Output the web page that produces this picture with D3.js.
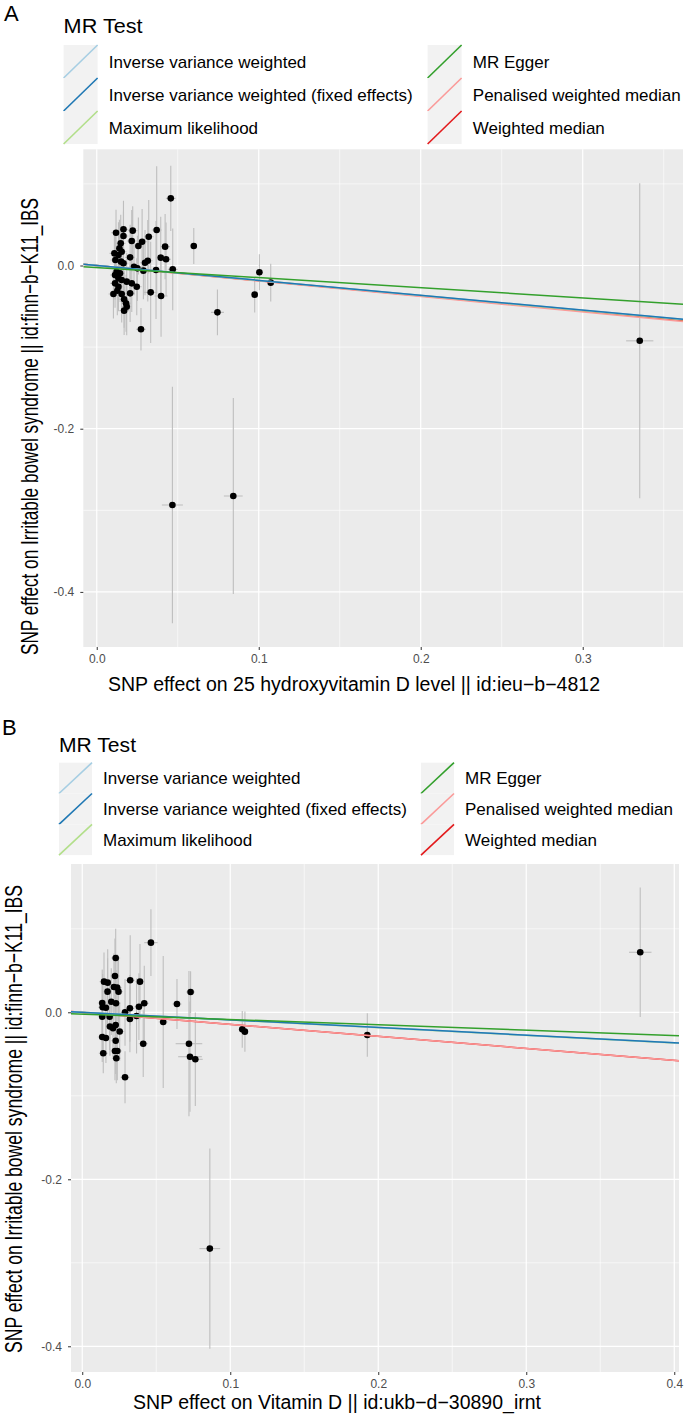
<!DOCTYPE html>
<html><head><meta charset="utf-8">
<script src="https://cdn.jsdelivr.net/npm/d3@7"></script>
<style>body{margin:0;background:#fff;} text{font-family:"Liberation Sans",Arial,sans-serif;}</style>
</head><body><svg id="c" width="685" height="1418"></svg>
<script>
// ---------- data ----------
const methods = ["Inverse variance weighted","Inverse variance weighted (fixed effects)","Maximum likelihood","MR Egger","Penalised weighted median","Weighted median"];
const methodColors = ["#a6cee3","#1f78b4","#b2df8a","#33a02c","#fb9a99","#e31a1c"];
const lineDrawOrder = [5,4,2,0,1,3];

// Panel A: 25 hydroxyvitamin D level (ieu-b-4812) -> IBS
const aX = [0.0457,0.0165,0.0222,0.0119,0.0370,0.0165,0.0321,0.0216,0.0148,0.0280,
            0.0140,0.0257,0.0422,0.0599,0.0154,0.0109,0.0134,0.0206,0.0395,0.0115,
            0.0150,0.0315,0.0428,0.0298,0.0165,0.0230,0.0251,0.0469,0.0366,0.0123,
            0.0288,0.0144,0.0113,0.0134,0.0185,0.0154,0.0113,0.0216,0.0134,0.0247,
            0.0333,0.0397,0.0103,0.0154,0.0206,0.0127,0.0169,0.0181,0.0185,0.0169,
            0.0273,0.0745,0.0975,0.1004,0.1074,0.0467,0.0843,0.3352];
const aY = [0.0823,0.0443,0.0427,0.0402,0.0435,0.0361,0.0353,0.0300,0.0272,0.0292,
            0.0211,0.0239,0.0231,0.0239,0.0169,0.0149,0.0129,0.0100,0.0096,0.0067,
            0.0047,0.0059,0.0076,0.0034,0.0027,-0.0015,-0.0035,-0.0047,-0.0055,-0.0076,
            -0.0063,-0.0096,-0.0116,-0.0157,-0.0198,-0.0178,-0.0219,-0.0219,-0.0260,-0.0260,
            -0.0329,-0.0374,-0.0349,-0.0349,-0.0341,-0.0309,-0.0414,-0.0463,-0.0504,-0.0553,
            -0.0782,-0.0574,-0.0357,-0.0083,-0.0210,-0.2935,-0.2825,-0.0923];
const aSeY = [0.040,0.035,0.030,0.028,0.078,0.030,0.045,0.038,0.035,0.040,
              0.035,0.035,0.040,0.022,0.030,0.025,0.040,0.040,0.050,0.030,
              0.030,0.050,0.045,0.040,0.035,0.035,0.040,0.050,0.060,0.030,
              0.035,0.035,0.030,0.035,0.035,0.030,0.030,0.035,0.030,0.035,
              0.062,0.050,0.030,0.035,0.035,0.030,0.035,0.035,0.035,0.030,
              0.026,0.028,0.022,0.022,0.023,0.145,0.120,0.193];
const aSeX = [0.003,0.003,0.003,0.003,0.003,0.003,0.003,0.003,0.003,0.003,
              0.003,0.003,0.003,0.002,0.003,0.003,0.003,0.003,0.003,0.003,
              0.003,0.003,0.003,0.003,0.003,0.003,0.003,0.003,0.003,0.003,
              0.003,0.003,0.003,0.003,0.003,0.003,0.003,0.003,0.003,0.003,
              0.004,0.004,0.003,0.003,0.003,0.003,0.003,0.003,0.003,0.003,
              0.003,0.004,0.002,0.002,0.002,0.0065,0.0058,0.0084];
const aIntercept = [0, 0, 0, -0.0025, 0, 0];
const aSlope = [-0.182, -0.182, -0.184, -0.124, -0.1895, -0.186];
const aXTicks = [0, 0.1, 0.2, 0.3];
const aYTicks = [-0.4, -0.2, 0];
const aXDomain = [-0.0083, 0.3619];
const aYDomain = [-0.4675, 0.1424];

// Panel B: Vitamin D (ukb-d-30890_irnt) -> IBS
const bX = [0.0464,0.0226,0.0221,0.0324,0.0390,0.0147,0.0172,0.0214,0.0236,0.0245,
            0.0171,0.0732,0.0640,0.0419,0.0383,0.0322,0.0289,0.0135,0.0196,0.0228,
            0.0138,0.0160,0.0135,0.0185,0.0322,0.0367,0.0547,0.0187,0.0208,0.0226,
            0.0253,0.0135,0.0160,0.0226,0.0412,0.0721,0.1081,0.1099,0.0142,0.0221,
            0.0237,0.0230,0.0728,0.0764,0.0289,0.0862,0.1926,0.3770];
const bY = [0.0834,0.0650,0.0435,0.0383,0.0367,0.0367,0.0355,0.0303,0.0295,0.0247,
            0.0247,0.0243,0.0099,0.0108,0.0067,0.0048,0.0000,0.0111,0.0127,0.0108,
            0.0060,0.0055,-0.0053,-0.0053,-0.0080,-0.0044,-0.0116,-0.0170,-0.0190,-0.0152,
            -0.0230,-0.0296,-0.0308,-0.0340,-0.0376,-0.0376,-0.0204,-0.0232,-0.0490,-0.0463,
            -0.0463,-0.0550,-0.0532,-0.0563,-0.0778,-0.2830,-0.0272,0.0719];
const bSeY = [0.040,0.035,0.045,0.054,0.045,0.035,0.040,0.040,0.040,0.040,
              0.040,0.025,0.030,0.045,0.040,0.040,0.040,0.040,0.040,0.040,
              0.040,0.035,0.040,0.040,0.040,0.045,0.079,0.035,0.035,0.040,
              0.035,0.030,0.030,0.040,0.040,0.087,0.022,0.024,0.024,0.035,
              0.035,0.030,0.066,0.056,0.031,0.120,0.026,0.0775];
const bSeX = [0.0045,0.003,0.003,0.003,0.003,0.003,0.003,0.003,0.003,0.003,
              0.003,0.003,0.003,0.003,0.003,0.003,0.003,0.003,0.003,0.003,
              0.003,0.003,0.003,0.003,0.003,0.003,0.003,0.003,0.003,0.003,
              0.003,0.003,0.003,0.003,0.003,0.009,0.002,0.002,0.003,0.003,
              0.003,0.003,0.008,0.005,0.003,0.007,0.002,0.0076];
const bIntercept = [0, 0, 0, -0.0022, 0, 0];
const bSlope = [-0.091, -0.091, -0.092, -0.064, -0.144, -0.144];
const bXTicks = [0, 0.1, 0.2, 0.3, 0.4];
const bYTicks = [-0.4, -0.2, 0];
const bXDomain = [-0.0076, 0.4032];
const bYDomain = [-0.4308, 0.1776];

const yTitle = "SNP effect on Irritable bowel syndrome || id:finn\u2212b\u2212K11_IBS";
const aXTitle = "SNP effect on 25 hydroxyvitamin D level || id:ieu\u2212b\u22124812";
const bXTitle = "SNP effect on Vitamin D || id:ukb\u2212d\u221230890_irnt";

// ---------- drawing ----------
const svg = d3.select("#c");
svg.append("rect").attr("width",685).attr("height",1418).attr("fill","#fff");

function minorTicks(major, dom){
  const step = major[1]-major[0];
  const out = [];
  for (let v = major[0]-step/2; v <= dom[1]; v += step) {
    if (v >= dom[0] && v <= dom[1]) out.push(+v.toFixed(4));
  }
  return out;
}
const fmt = v => d3.format(".1f")(v).replace("\u2212","-");

function drawPanel(cfg){
  const g = svg.append("g");
  const x = d3.scaleLinear().domain(cfg.xDomain).range([cfg.left, cfg.right]);
  const y = d3.scaleLinear().domain(cfg.yDomain).range([cfg.bottom, cfg.top]);
  const clipId = "clip" + cfg.id;
  svg.append("clipPath").attr("id", clipId).append("rect")
    .attr("x", cfg.left).attr("y", cfg.top).attr("width", cfg.right-cfg.left).attr("height", cfg.bottom-cfg.top);

  g.append("rect").attr("x",cfg.left).attr("y",cfg.top).attr("width",cfg.right-cfg.left)
    .attr("height",cfg.bottom-cfg.top).attr("fill","#EBEBEB");

  // grid
  const grid = g.append("g").attr("stroke","#fff");
  minorTicks(cfg.xTicks, cfg.xDomain).forEach(v => grid.append("line")
    .attr("x1",x(v)).attr("x2",x(v)).attr("y1",cfg.top).attr("y2",cfg.bottom).attr("stroke-width",0.6));
  minorTicks(cfg.yTicks, cfg.yDomain).forEach(v => grid.append("line")
    .attr("y1",y(v)).attr("y2",y(v)).attr("x1",cfg.left).attr("x2",cfg.right).attr("stroke-width",0.6));
  cfg.xTicks.forEach(v => grid.append("line")
    .attr("x1",x(v)).attr("x2",x(v)).attr("y1",cfg.top).attr("y2",cfg.bottom).attr("stroke-width",1.2));
  cfg.yTicks.forEach(v => grid.append("line")
    .attr("y1",y(v)).attr("y2",y(v)).attr("x1",cfg.left).attr("x2",cfg.right).attr("stroke-width",1.2));

  const pts = cfg.xs.map((v,i) => ({x:v, y:cfg.ys[i], sy:cfg.seY[i], sx:cfg.seX[i]}));
  const inner = g.append("g").attr("clip-path", `url(#${clipId})`);
  inner.append("g").selectAll("line").data(pts).join("line")
    .attr("x1", d=>x(d.x)).attr("x2", d=>x(d.x)).attr("y1", d=>y(d.y-d.sy)).attr("y2", d=>y(d.y+d.sy))
    .attr("stroke","#BEBEBE").attr("stroke-width",1.1);
  inner.append("g").selectAll("line").data(pts).join("line")
    .attr("y1", d=>y(d.y)).attr("y2", d=>y(d.y)).attr("x1", d=>x(d.x-d.sx)).attr("x2", d=>x(d.x+d.sx))
    .attr("stroke","#BEBEBE").attr("stroke-width",1.1);
  inner.append("g").selectAll("circle").data(pts).join("circle")
    .attr("cx", d=>x(d.x)).attr("cy", d=>y(d.y)).attr("r",3.3).attr("fill","#000");
  lineDrawOrder.forEach(i => {
    const a = cfg.intercept[i], b = cfg.slope[i];
    inner.append("line")
      .attr("x1", x(cfg.xDomain[0])).attr("y1", y(a + b*cfg.xDomain[0]))
      .attr("x2", x(cfg.xDomain[1])).attr("y2", y(a + b*cfg.xDomain[1]))
      .attr("stroke", methodColors[i]).attr("stroke-width",1.5);
  });

  // axes
  const xa = g.append("g").attr("transform",`translate(0,${cfg.bottom})`)
    .call(d3.axisBottom(x).tickValues(cfg.xTicks).tickSize(3).tickPadding(3).tickFormat(fmt));
  const ya = g.append("g").attr("transform",`translate(${cfg.left},0)`)
    .call(d3.axisLeft(y).tickValues(cfg.yTicks).tickSize(3).tickPadding(cfg.yPad).tickFormat(fmt));
  [xa, ya].forEach(ax => {
    ax.select(".domain").remove();
    ax.selectAll(".tick line").attr("stroke","#333333").attr("stroke-width",1);
    ax.selectAll(".tick text").attr("fill","#4D4D4D").style("font-size","12px")
      .style("font-family",'"Liberation Sans",Arial,sans-serif');
  });
  xa.selectAll(".tick text").attr("dy",null).attr("y",16);

  // titles
  g.append("text").attr("x",cfg.xTitleX).attr("y",cfg.xTitleY).attr("font-size",19.5)
    .attr("fill","#000").attr("textLength",cfg.xTitleLen).attr("lengthAdjust","spacingAndGlyphs")
    .text(cfg.xTitle);
  g.append("text").attr("transform",`translate(${cfg.yTitleX},${cfg.yTitleY}) rotate(-90)`)
    .attr("text-anchor","middle").attr("font-size",24).attr("fill","#000")
    .attr("textLength",cfg.yTitleLen).attr("lengthAdjust","spacingAndGlyphs").text(yTitle);

  // panel letter
  g.append("text").attr("x",cfg.letterX).attr("y",cfg.letterY).attr("font-size",22).text(cfg.letter);

  // legend
  const L = cfg.legend;
  g.append("text").attr("x",L.titleX).attr("y",L.titleY).attr("font-size",20)
    .attr("textLength",L.titleLen).attr("lengthAdjust","spacingAndGlyphs").text("MR Test");
  methods.forEach((m,i) => {
    const col = Math.floor(i/3), row = i%3;
    const kx = L.colX[col], ky = L.rowY0 + row*L.keyH;
    g.append("rect").attr("x",kx).attr("y",ky).attr("width",L.keyW).attr("height",L.keyH).attr("fill","#F2F2F2");
    g.append("line").attr("x1",kx).attr("y1",ky+L.keyH).attr("x2",kx+L.keyW).attr("y2",ky)
      .attr("stroke",methodColors[i]).attr("stroke-width",1.6);
    g.append("text").attr("x",L.textX[col]).attr("y",ky+L.keyH/2).attr("dy","0.36em")
      .attr("font-size",17).attr("fill","#000").text(m);
  });
}

drawPanel({
  id:"A", letter:"A", letterX:4, letterY:21,
  left:83.3, right:683, top:149.3, bottom:647, yPad:6,
  xDomain:aXDomain, yDomain:aYDomain, xTicks:aXTicks, yTicks:aYTicks,
  xs:aX, ys:aY, seY:aSeY, seX:aSeX, intercept:aIntercept, slope:aSlope,
  xTitle:aXTitle, xTitleX:108, xTitleY:691, xTitleLen:492,
  yTitleX:37.5, yTitleY:426.5, yTitleLen:457,
  legend:{titleX:63.6, titleY:32.5, titleLen:79, colX:[63.6,427.6], textX:[108.8,472.8], rowY0:45, keyW:34, keyH:33}
});
drawPanel({
  id:"B", letter:"B", letterX:2, letterY:735,
  left:71, right:679, top:864, bottom:1372, yPad:6,
  xDomain:bXDomain, yDomain:bYDomain, xTicks:bXTicks, yTicks:bYTicks,
  xs:bX, ys:bY, seY:bSeY, seX:bSeX, intercept:bIntercept, slope:bSlope,
  xTitle:bXTitle, xTitleX:133, xTitleY:1409, xTitleLen:408,
  yTitleX:22, yTitleY:1119, yTitleLen:468,
  legend:{titleX:59, titleY:752, titleLen:77, colX:[59,421], textX:[103,465], rowY0:762.7, keyW:33, keyH:30.8}
});
</script></body></html>
